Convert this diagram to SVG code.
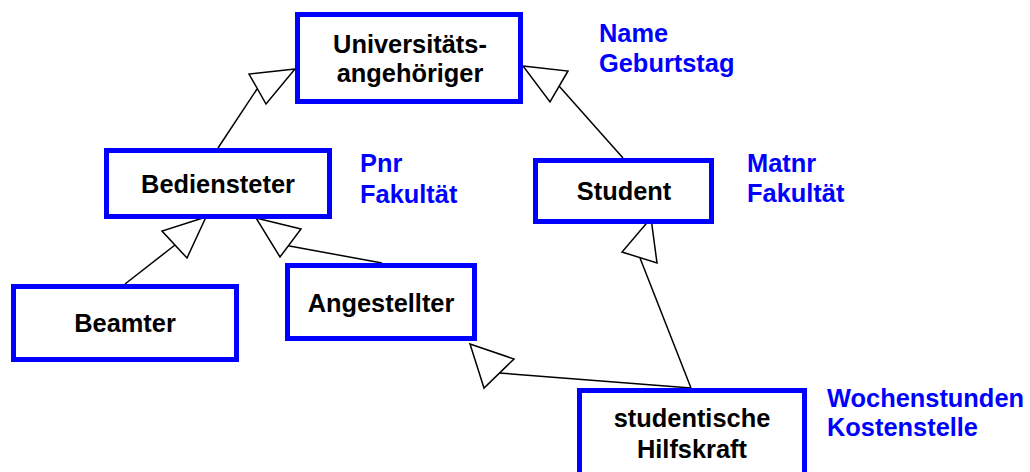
<svg xmlns="http://www.w3.org/2000/svg" width="1030" height="472" viewBox="0 0 1030 472">
<style>
.box{fill:#fff;stroke:#0000ff;stroke-width:5}
.lbl{font-family:"Liberation Sans",Arial,sans-serif;font-weight:bold;font-size:25.4px;fill:#000;text-anchor:middle}
.attr{font-family:"Liberation Sans",Arial,sans-serif;font-weight:bold;font-size:25.4px;fill:#0000ff}
.ln{stroke:#000;stroke-width:1.5;fill:none}
.tri{fill:#fff;stroke:#000;stroke-width:1.5;stroke-linejoin:miter}
</style>
<rect width="1030" height="472" fill="#fff"/>
<g id="connectors">
<line class="ln" x1="218" y1="148" x2="257" y2="89"/>
<polygon class="tri" points="295,69 249,74 266,104"/>
<line class="ln" x1="623" y1="158" x2="559" y2="86"/>
<polygon class="tri" points="523,66 568,71 550,102"/>
<line class="ln" x1="125" y1="284" x2="175" y2="245"/>
<polygon class="tri" points="206,217 162,231 187,258"/>
<line class="ln" x1="382" y1="263" x2="284" y2="245"/>
<polygon class="tri" points="256,218 301,229 280,257"/>
<line class="ln" x1="691" y1="388" x2="499" y2="373"/>
<polygon class="tri" points="470,344 514,359 484,388"/>
<line class="ln" x1="691" y1="388" x2="640" y2="258"/>
<polygon class="tri" points="651,218 622,252 657,263"/>
</g>
<g id="universitaetsangehoeriger">
<rect class="box" x="297.5" y="14.5" width="223" height="87"/>
<text class="lbl" x="410" y="53">Universitäts-</text>
<text class="lbl" x="410" y="82">angehöriger</text>
</g>
<g id="attr-uni">
<text class="attr" x="599" y="42">Name</text>
<text class="attr" x="599" y="72">Geburtstag</text>
</g>
<g id="bediensteter">
<rect class="box" x="106.5" y="150.5" width="223" height="66"/>
<text class="lbl" x="218" y="193">Bediensteter</text>
</g>
<g id="attr-bed">
<text class="attr" x="360" y="172">Pnr</text>
<text class="attr" x="360" y="203">Fakultät</text>
</g>
<g id="student">
<rect class="box" x="535.5" y="160.5" width="176" height="61"/>
<text class="lbl" x="624" y="200">Student</text>
</g>
<g id="attr-student">
<text class="attr" x="747" y="172">Matnr</text>
<text class="attr" x="747" y="202">Fakultät</text>
</g>
<g id="beamter">
<rect class="box" x="13.5" y="286.5" width="223" height="73"/>
<text class="lbl" x="125" y="332">Beamter</text>
</g>
<g id="angestellter">
<rect class="box" x="287.5" y="265.5" width="187" height="73"/>
<text class="lbl" x="381" y="312">Angestellter</text>
</g>
<g id="hilfskraft">
<rect class="box" x="579.5" y="390.5" width="225" height="100"/>
<text class="lbl" x="692" y="427">studentische</text>
<text class="lbl" x="692" y="458">Hilfskraft</text>
</g>
<g id="attr-hilfskraft">
<text class="attr" x="827" y="407">Wochenstunden</text>
<text class="attr" x="827" y="436">Kostenstelle</text>
</g>
</svg>
